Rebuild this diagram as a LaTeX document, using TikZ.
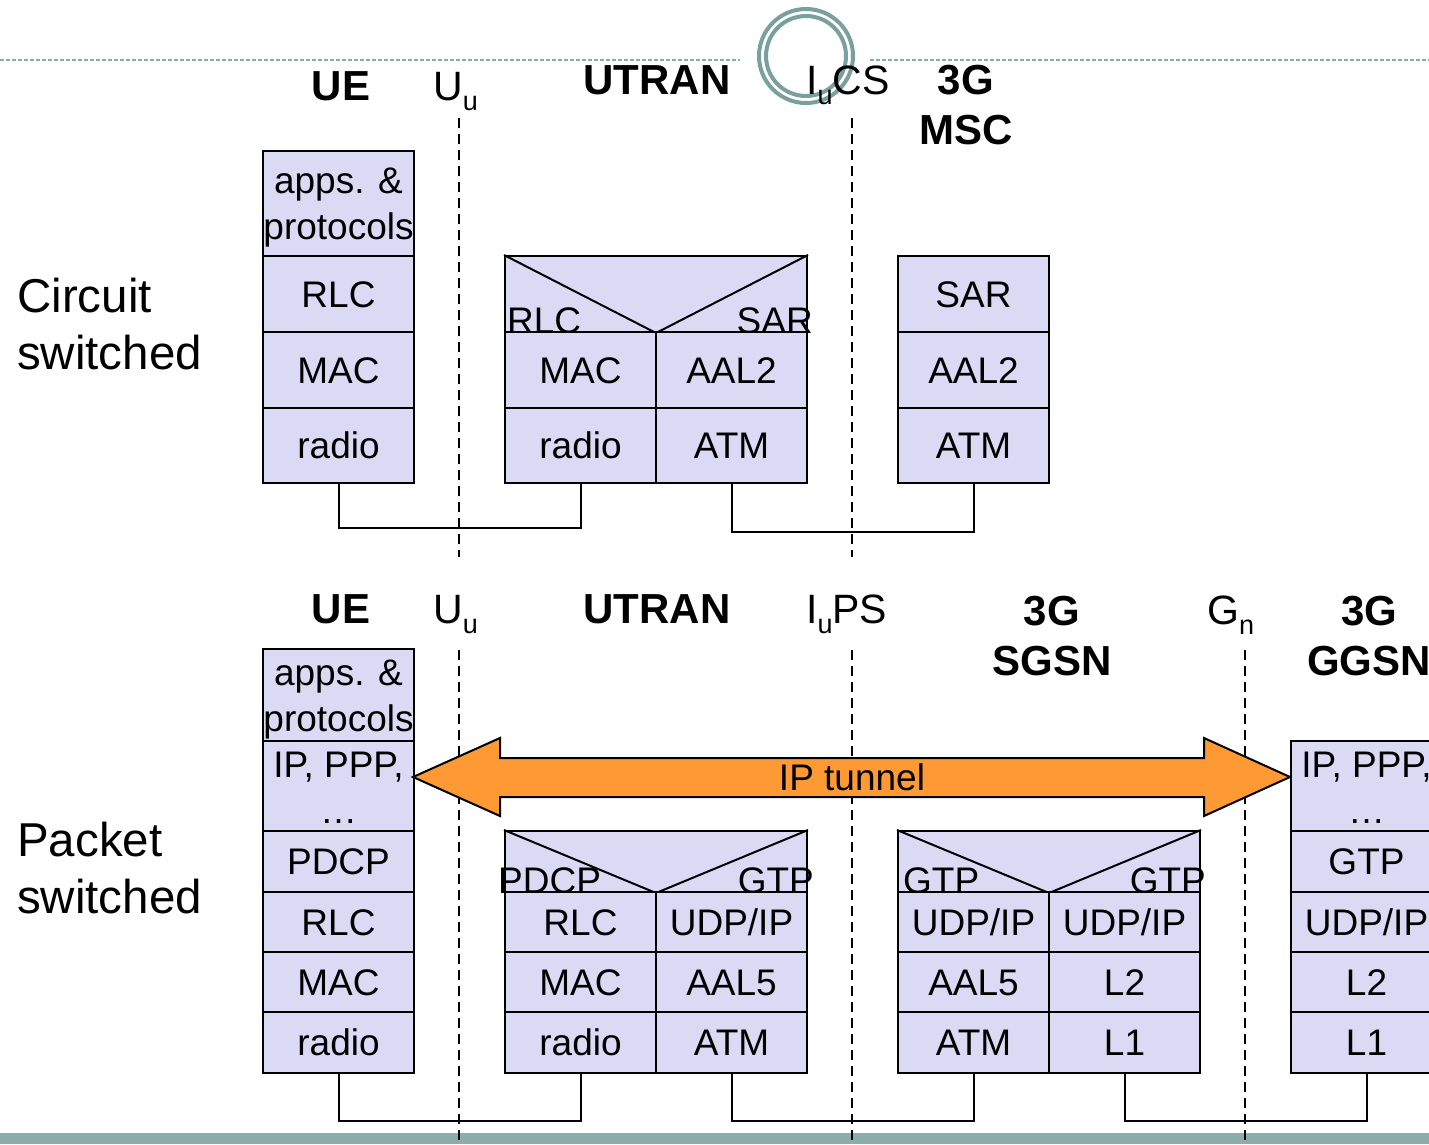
\documentclass[tikz,border=0pt]{standalone}
\usepackage{fontspec}
\setmainfont{Liberation Sans}
\definecolor{cellfill}{RGB}{218,218,245}
\definecolor{bandcol}{RGB}{140,173,173}
\definecolor{ringcol}{RGB}{122,160,158}
\definecolor{tunnelcol}{RGB}{255,153,51}
\newcommand\lowsub[1]{\raisebox{-10pt}{\fontsize{27}{27}\selectfont #1}}
\tikzset{
  cellbase/.style={draw=black, line width=2pt, fill=cellfill, anchor=north west, inner sep=0pt,
    font=\fontsize{37}{46}\selectfont},
  cell/.style={cellbase, text height=26.5pt, text depth=0pt},
  celltext/.style={inner sep=0pt, align=center, font=\fontsize{37}{46}\selectfont},
  hdlab/.style={inner sep=0pt, font=\fontsize{37}{46}\selectfont},
  lab/.style={inner sep=0pt, font=\fontsize{41}{50}\selectfont},
  blab/.style={lab, font=\fontsize{42}{50}\selectfont\bfseries, align=center, anchor=base},
  side/.style={inner sep=0pt, font=\fontsize{47.5}{57}\selectfont, align=left, anchor=base west},
  conn/.style={draw=black, line width=2pt},
  divider/.style={draw=black, line width=2pt, dash pattern=on 10pt off 6pt},
  vlines/.style={draw=black, line width=2pt}
}
\begin{document}
\begin{tikzpicture}[x=1pt,y=-1pt]
\useasboundingbox (0,0) rectangle (1429,1144);
\clip (0,0) rectangle (1429,1144);
% bottom band and top rule
\fill[bandcol] (0,1133) rectangle (1429,1144);
\draw[bandcol, line width=1.5pt, dash pattern=on 4pt off 2pt] (0,60) -- (740,60);
\draw[bandcol, line width=1.5pt, dash pattern=on 4pt off 2pt] (870,60) -- (1429,60);
\draw[ringcol, line width=4pt] (806,56) circle (47);
\draw[ringcol, line width=4pt] (806,56) circle (40);

% ===== Circuit switched =====
\node[side] (cs) at (17,369) {Circuit\\switched};
\node[blab] (t-ue) at (341,100) {UE};
\node[lab, anchor=base west] (t-uu) at (433,100) {U\lowsub{u}};
\node[blab] (t-utran) at (657,94) {UTRAN};
\node[lab, anchor=base west] (t-iucs) at (806,94) {I\lowsub{u}CS};
\node[blab] (t-msc) at (966,144) {3G\\MSC};

\draw[divider] (459,118) -- (459,557);
\draw[divider] (852,118) -- (852,557);

% UE stack
\node[cellbase, minimum width=151pt, minimum height=105pt] (cu-app) at (262,150) {};
\node[celltext, yshift=-4.5pt] (cu-app-t) at (cu-app.center) {apps. \&\\protocols};
\node[cell, minimum width=151pt, minimum height=76pt] (cu-rlc) at (262,255) {RLC};
\node[cell, minimum width=151pt, minimum height=76pt] (cu-mac) at (262,331) {MAC};
\node[cell, minimum width=151pt, minimum height=75pt] (cu-rad) at (262,407) {radio};
% UTRAN stack
\node[cell, minimum width=302pt, minimum height=76pt] (cr-hd) at (504,255) {};
\draw[vlines] (cr-hd.north west) -- (cr-hd.south) -- (cr-hd.north east);
\node[hdlab, anchor=base west] (cr-hd-l) at ([xshift=3pt]cr-hd.south west) {RLC};
\node[hdlab, anchor=base east] (cr-hd-r) at ([xshift=5pt]cr-hd.south east) {SAR};
\node[cell, minimum width=151pt, minimum height=76pt] (cr-mac) at (504,331) {MAC};
\node[cell, minimum width=151pt, minimum height=76pt] (cr-aal) at (655,331) {AAL2};
\node[cell, minimum width=151pt, minimum height=75pt] (cr-rad) at (504,407) {radio};
\node[cell, minimum width=151pt, minimum height=75pt] (cr-atm) at (655,407) {ATM};
% MSC stack
\node[cell, minimum width=151pt, minimum height=76pt] (cm-sar) at (897,255) {SAR};
\node[cell, minimum width=151pt, minimum height=76pt] (cm-aal) at (897,331) {AAL2};
\node[cell, minimum width=151pt, minimum height=75pt] (cm-atm) at (897,407) {ATM};

\draw[conn] (cu-rad.south) -- ++(0,44) -| (cr-rad.south);
\draw[conn] (cr-atm.south) -- ++(0,48) -| (cm-atm.south);

% ===== Packet switched =====
\node[side] (ps) at (17,913) {Packet\\switched};
\node[blab] (p-ue) at (341,623) {UE};
\node[lab, anchor=base west] (p-uu) at (433,623) {U\lowsub{u}};
\node[blab] (p-utran) at (657,623) {UTRAN};
\node[lab, anchor=base west] (p-iups) at (806,623) {I\lowsub{u}PS};
\node[blab] (p-sgsn) at (1052,675) {3G\\SGSN};
\node[lab, anchor=base west] (p-gn) at (1207,624) {G\lowsub{n}};
\node[blab] (p-ggsn) at (1369,675) {3G\\GGSN};

\draw[divider] (459,650) -- (459,1144);
\draw[divider] (852,650) -- (852,1144);
\draw[divider] (1245,650) -- (1245,1144);

% UE stack
\node[cellbase, minimum width=151pt, minimum height=92pt] (pu-app) at (262,648) {};
\node[celltext, yshift=-4.5pt] (pu-app-t) at (pu-app.center) {apps. \&\\protocols};
\node[cellbase, minimum width=151pt, minimum height=90pt] (pu-ip) at (262,740) {};
\node[celltext, yshift=-1.5pt] (pu-ip-t) at (pu-ip.center) {IP, PPP,\\…};
\node[cell, minimum width=151pt, minimum height=61pt] (pu-pdcp) at (262,830) {PDCP};
\node[cell, minimum width=151pt, minimum height=60pt] (pu-rlc) at (262,891) {RLC};
\node[cell, minimum width=151pt, minimum height=60pt] (pu-mac) at (262,951) {MAC};
\node[cell, minimum width=151pt, minimum height=61pt] (pu-rad) at (262,1011) {radio};
% UTRAN stack
\node[cell, minimum width=302pt, minimum height=61pt] (pr-hd) at (504,830) {};
\draw[vlines] (pr-hd.north west) -- (pr-hd.south) -- (pr-hd.north east);
\node[hdlab, anchor=base west] (pr-hd-l) at ([xshift=-6pt]pr-hd.south west) {PDCP};
\node[hdlab, anchor=base east] (pr-hd-r) at ([xshift=6pt]pr-hd.south east) {GTP};
\node[cell, minimum width=151pt, minimum height=60pt] (pr-rlc) at (504,891) {RLC};
\node[cell, minimum width=151pt, minimum height=60pt] (pr-udp) at (655,891) {UDP/IP};
\node[cell, minimum width=151pt, minimum height=60pt] (pr-mac) at (504,951) {MAC};
\node[cell, minimum width=151pt, minimum height=60pt] (pr-aal) at (655,951) {AAL5};
\node[cell, minimum width=151pt, minimum height=61pt] (pr-rad) at (504,1011) {radio};
\node[cell, minimum width=151pt, minimum height=61pt] (pr-atm) at (655,1011) {ATM};
% SGSN stack
\node[cell, minimum width=302pt, minimum height=61pt] (ps-hd) at (897,830) {};
\draw[vlines] (ps-hd.north west) -- (ps-hd.south) -- (ps-hd.north east);
\node[hdlab, anchor=base west] (ps-hd-l) at ([xshift=6pt]ps-hd.south west) {GTP};
\node[hdlab, anchor=base east] (ps-hd-r) at ([xshift=5pt]ps-hd.south east) {GTP};
\node[cell, minimum width=151pt, minimum height=60pt] (ps-udp1) at (897,891) {UDP/IP};
\node[cell, minimum width=151pt, minimum height=60pt] (ps-udp2) at (1048,891) {UDP/IP};
\node[cell, minimum width=151pt, minimum height=60pt] (ps-aal) at (897,951) {AAL5};
\node[cell, minimum width=151pt, minimum height=60pt] (ps-l2) at (1048,951) {L2};
\node[cell, minimum width=151pt, minimum height=61pt] (ps-atm) at (897,1011) {ATM};
\node[cell, minimum width=151pt, minimum height=61pt] (ps-l1) at (1048,1011) {L1};
% GGSN stack
\node[cellbase, minimum width=151pt, minimum height=90pt] (pg-ip) at (1290,740) {};
\node[celltext, yshift=-1.5pt] (pg-ip-t) at (pg-ip.center) {IP, PPP,\\…};
\node[cell, minimum width=151pt, minimum height=61pt] (pg-gtp) at (1290,830) {GTP};
\node[cell, minimum width=151pt, minimum height=60pt] (pg-udp) at (1290,891) {UDP/IP};
\node[cell, minimum width=151pt, minimum height=60pt] (pg-l2) at (1290,951) {L2};
\node[cell, minimum width=151pt, minimum height=61pt] (pg-l1) at (1290,1011) {L1};

\draw[conn] (pu-rad.south) -- ++(0,47) -| (pr-rad.south);
\draw[conn] (pr-atm.south) -- ++(0,47) -| (ps-atm.south);
\draw[conn] (ps-l1.south) -- ++(0,47) -| (pg-l1.south);

% IP tunnel arrow
\coordinate (tipL) at (413,777);
\coordinate (tipR) at (1290,777);
\draw[fill=tunnelcol, line width=2pt, line join=miter]
  (tipL) -- (500,738) -- (500,758) -- (1204,758) -- (1204,738) -- (tipR)
  -- (1204,816) -- (1204,797) -- (500,797) -- (500,816) -- cycle;
\node[hdlab, text height=26pt, text depth=0pt] (tun) at (852,777) {IP tunnel};
\end{tikzpicture}
\end{document}
